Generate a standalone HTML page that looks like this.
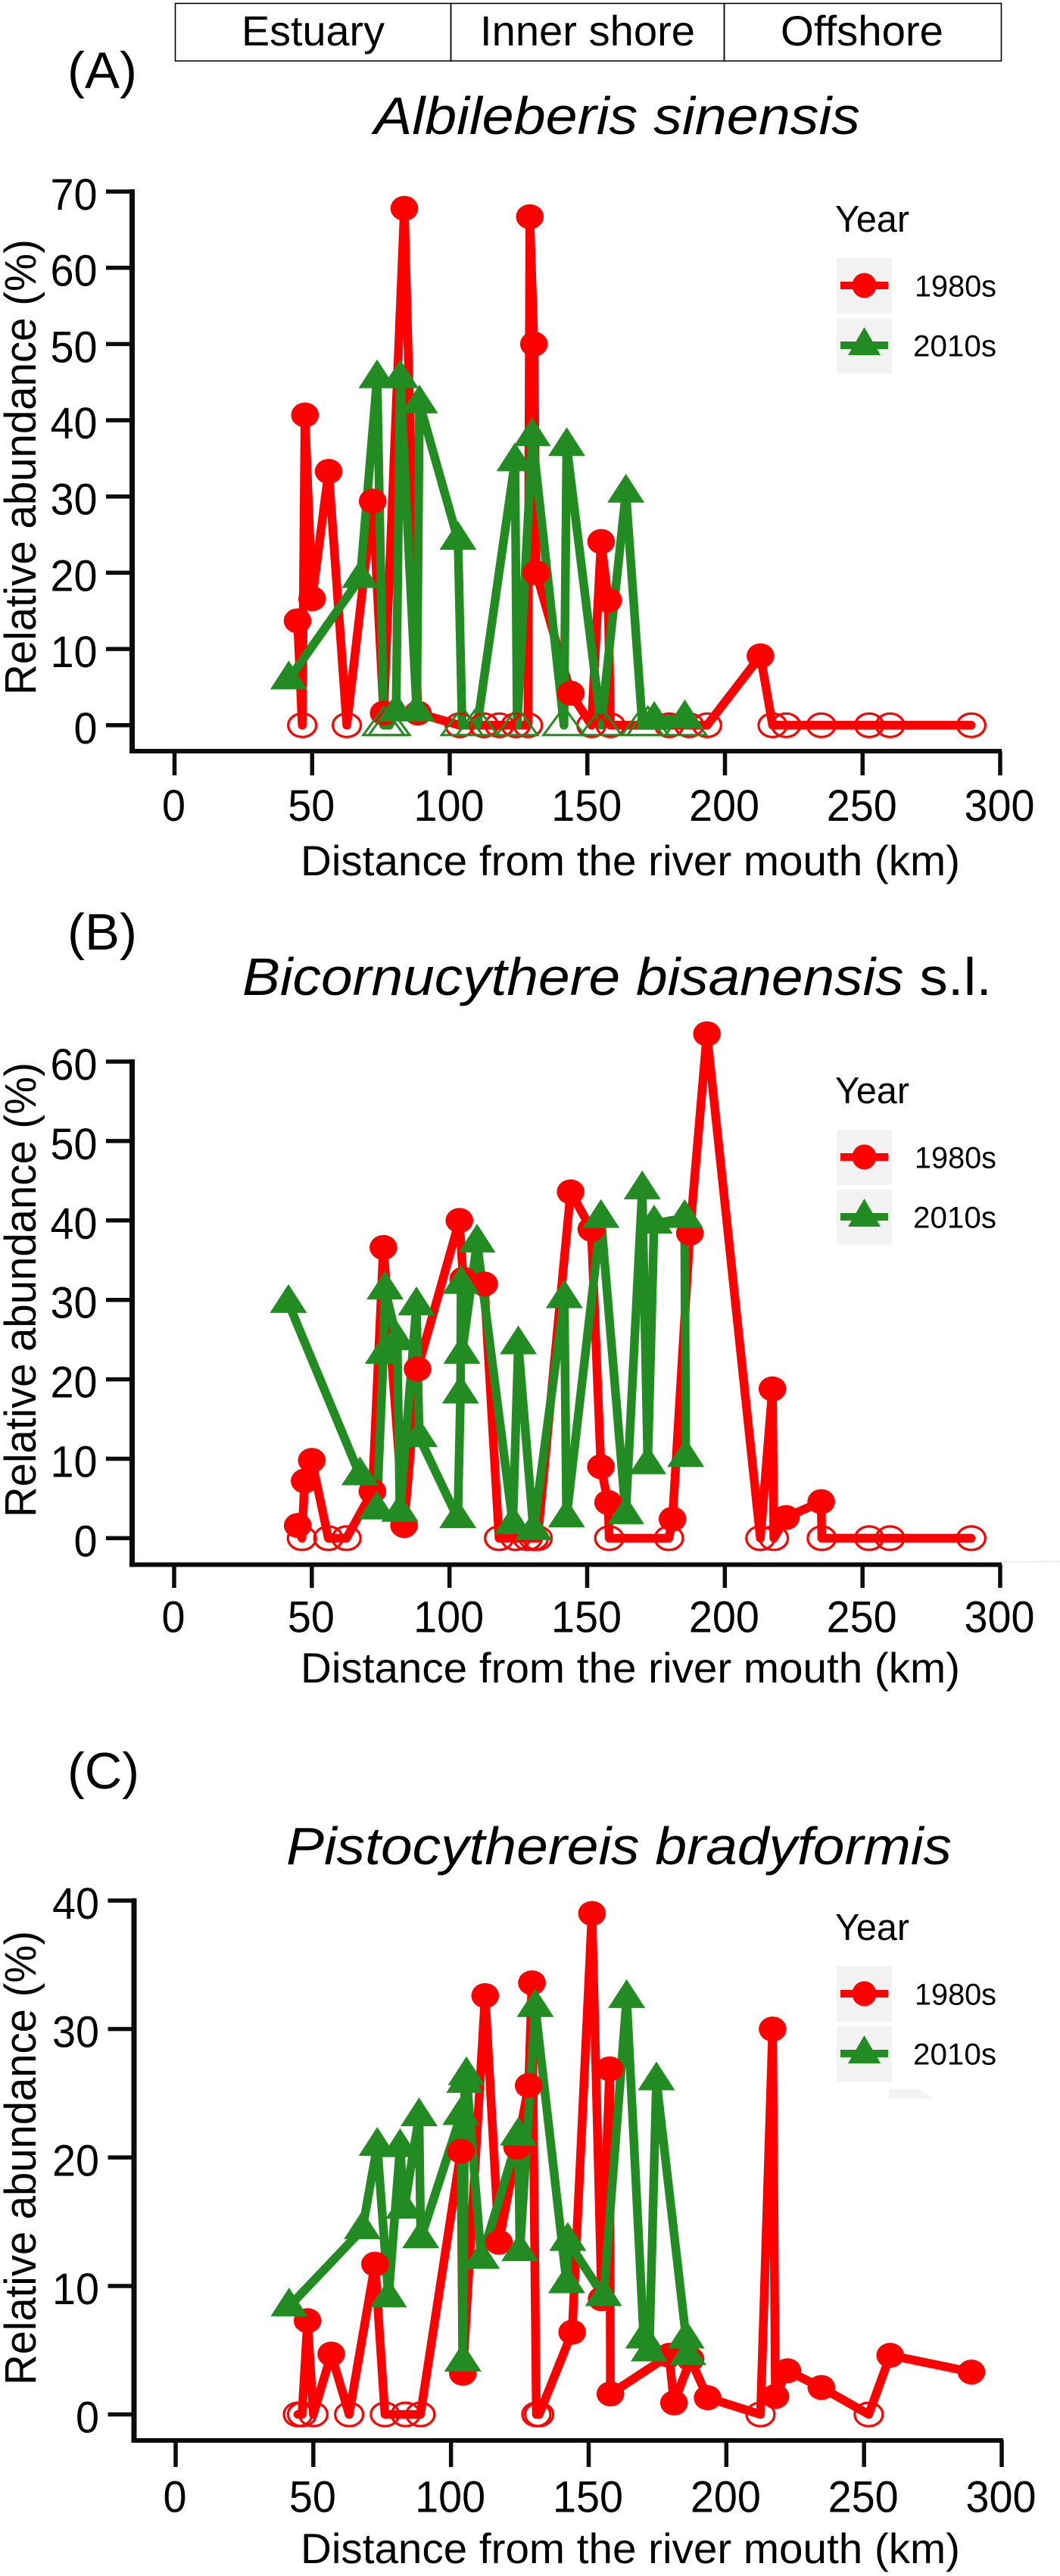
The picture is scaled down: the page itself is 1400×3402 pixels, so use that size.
<!DOCTYPE html>
<html lang="en">
<head>
<meta charset="utf-8">
<title>Relative abundance of ostracod species by distance from the river mouth</title>
<style>
html,body{margin:0;padding:0;background:#fff;}
svg{display:block;font-family:"Liberation Sans",Arial,sans-serif;}
text{fill:#000;}
</style>
</head>
<body>
<svg id="figure" xmlns="http://www.w3.org/2000/svg" width="1400" height="3402" viewBox="0 0 1400 3402">
  <rect x="0" y="0" width="1400" height="3402" fill="#fff"/>

  <g>
    <rect x="231.5" y="4.5" width="364" height="76" fill="none" stroke="#000" stroke-width="1.6"/>
    <rect x="595.5" y="4.5" width="361" height="76" fill="none" stroke="#000" stroke-width="1.6"/>
    <rect x="956.5" y="4.5" width="366" height="76" fill="none" stroke="#000" stroke-width="1.6"/>
    <text x="319" y="60" font-size="56" textLength="189" lengthAdjust="spacingAndGlyphs">Estuary</text>
    <text x="634" y="60" font-size="56" textLength="284" lengthAdjust="spacingAndGlyphs">Inner shore</text>
    <text x="1031" y="60" font-size="56" textLength="215" lengthAdjust="spacingAndGlyphs">Offshore</text>
  </g>

  <text x="89" y="116" font-size="68" textLength="92" lengthAdjust="spacingAndGlyphs">(A)</text>
  <text x="494" y="177" font-size="70" font-style="italic" textLength="642" lengthAdjust="spacingAndGlyphs">Albileberis sinensis</text>
  <text x="397" y="1156" font-size="56" textLength="871" lengthAdjust="spacingAndGlyphs">Distance from the river mouth (km)</text>
  <text transform="translate(47,918) rotate(-90)" font-size="58" textLength="602" lengthAdjust="spacingAndGlyphs">Relative abundance (%)</text>

  <text x="89" y="1254" font-size="68" textLength="92" lengthAdjust="spacingAndGlyphs">(B)</text>
  <text x="320" y="1314" font-size="70" textLength="990" lengthAdjust="spacingAndGlyphs"><tspan font-style="italic">Bicornucythere bisanensis</tspan> s.l.</text>
  <text x="397" y="2222" font-size="56" textLength="871" lengthAdjust="spacingAndGlyphs">Distance from the river mouth (km)</text>
  <text transform="translate(47,2004) rotate(-90)" font-size="58" textLength="601" lengthAdjust="spacingAndGlyphs">Relative abundance (%)</text>
  <line x1="1323" y1="2063" x2="1400" y2="2062" stroke="#eeeeee" stroke-width="2"/>

  <text x="89" y="2362" font-size="68" textLength="95" lengthAdjust="spacingAndGlyphs">(C)</text>
  <text x="378" y="2462" font-size="70" font-style="italic" textLength="879" lengthAdjust="spacingAndGlyphs">Pistocythereis bradyformis</text>
  <text x="397" y="3385" font-size="56" textLength="871" lengthAdjust="spacingAndGlyphs">Distance from the river mouth (km)</text>
  <text transform="translate(47,3150) rotate(-90)" font-size="58" textLength="600" lengthAdjust="spacingAndGlyphs">Relative abundance (%)</text>
  <polygon points="1174,2759 1213,2759 1232,2771 1174,2771" fill="#f2f2f2"/>

  <g id="plot-a"></g>
  <g id="plot-b"></g>
  <g id="plot-c"></g>
</svg>

<script>
// Shared tick labels
const xTicks = [0, 50, 100, 150, 200, 250, 300];
const legendYears = ["1980s", "2010s"];

// Panel A: Albileberis sinensis
const aTicksY = [0, 10, 20, 30, 40, 50, 60, 70];
const aDist1980 = [44.7,46.4,47.4,50,56,62.6,72,76,83.5,88.4,103.6,112.4,118,124,128.4,129.1,130.6,131.4,144,151.5,155,157.6,158.4,179.7,187,193.5,212.9,217.3,222.2,235,252.4,260,289.5];
const aVal1980 = [13.7,0,40.7,16.6,33.3,0,29.4,1.6,67.8,1.6,0,0,0,0,0,66.7,50,20,4.2,0,24.1,16.4,0,0,0,0,9.1,0,0,0,0,0,0];
const aDist2010 = [41.5,67.5,73.6,76,78,80.5,82,88,89,103,104.5,110,123.7,124.5,130,141.5,142.5,155,164,170,172,174.3,185.4,185.8];
const aVal2010 = [6,19.3,45.5,0,0,1.8,45.5,1.8,42.2,24.3,0,0,34.6,0,37.9,0,36.6,0,30.5,0,0,0.7,0.9,0];

// Panel B: Bicornucythere bisanensis s.l.
const bTicksY = [0, 10, 20, 30, 40, 50, 60];
const bDist1980 = [44.9,46.4,47.4,50,56,62.6,72,76,83.5,88.4,103.6,105,112.6,118,124,128.4,130.6,132,144,151.5,155,157.6,158,179.7,181,187.3,193.5,212.9,217.3,217.8,222.2,235,235.2,252.4,260,289.5];
const bVal1980 = [1.6,0,7.2,9.8,0,0,5.9,36.6,1.6,21.3,40,32.6,32,0,0,0,0,0,43.6,38.9,9,4.5,0,0,2.4,38.4,63.5,0,18.8,0,2.6,4.6,0,0,0,0];
const bDist2010 = [41.5,67.5,73.6,76,76.6,81,82,88,89,103,104,104.2,104.5,110,123,125,130.5,141.7,142.5,155,164,170,172,174.3,185.4,185.8];
const bVal2010 = [29.6,7.9,3.6,23.2,31.3,24.9,3.3,29.3,12.7,2.5,18.2,32,23.2,37.2,1.8,24.4,1,30.2,2.6,40.3,3,43.9,9.3,39.6,40.3,10.2];

// Panel C: Pistocythereis bradyformis
const cTicksY = [0, 10, 20, 30, 40];
const cDist1980 = [44.4,45.9,47.9,50,56.5,63,72.4,76,83.5,88.9,103.6,104.3,112.4,117.4,124,128.2,129.4,131,132,144,151.2,154.7,157.6,157.9,179.2,181,187,193.2,212.4,216.8,217.8,222.2,234.5,251.7,259.5,289];
const cVal1980 = [0,0,7.3,0,4.7,0,11.7,0,0,0,20.5,3.2,32.6,13.4,20.8,25.6,33.6,0,0,6.4,39,9,26.9,1.6,4.6,0.9,4.3,1.3,0,30,1.4,3.4,2.1,0,4.6,3.3];
const cDist2010 = [41.2,67.8,73.2,77.3,81.5,83,88.4,89,103.6,104.3,105,105.6,111,124.5,125,130.6,142,142.4,155.4,163.8,170,172,174.6,185.4,186];
const cVal2010 = [8.4,14.4,20.9,9.1,20.8,16,23.2,13.7,23.3,4.1,25.8,26.4,12.1,21.7,12.7,31.7,10.2,13.5,9.2,32.4,5.9,4.9,26,5.9,4.6];

const SVG_NS = "http://www.w3.org/2000/svg";
const RED = "#ff0000";
const GREEN = "#228b22";
const AXIS = "#0c0c0c";

function mk(parent, tag, attrs) {
  const el = document.createElementNS(SVG_NS, tag);
  for (const k in attrs) el.setAttribute(k, attrs[k]);
  parent.appendChild(el);
  return el;
}

function makeScales(g) {
  return {
    x: function (d) { return g.x0 + (d / 300) * (g.x300 - g.x0); },
    y: function (v) { return g.y0 - (v / g.yMax) * (g.y0 - g.yTop); }
  };
}

function drawAxes(root, g, s, yTicks, prefix) {
  const yAxis = mk(root, "line", {x1: g.axisX, y1: g.yTop - 3, x2: g.axisX, y2: g.axisY + 3, stroke: AXIS, "stroke-width": 7});
  
  
  const xAxis = mk(root, "line", {x1: g.axisX - 3, y1: g.axisY, x2: g.x300 + 2, y2: g.axisY, stroke: AXIS, "stroke-width": 6});
  
  

  yTicks.forEach(function (t) {
    const py = s.y(t);
    const tick = mk(root, "line", {x1: g.axisX - 34.5, y1: py, x2: g.axisX, y2: py, stroke: AXIS, "stroke-width": 5.5});
    
    
    const lab = mk(root, "text", {x: g.axisX - 46, y: py + 24, "font-size": 58, "text-anchor": "end", textLength: String(t).length * 31, lengthAdjust: "spacingAndGlyphs"});
    
    
    lab.textContent = t;
  });

  xTicks.forEach(function (t) {
    const px = s.x(t);
    const tick = mk(root, "line", {x1: px, y1: g.axisY, x2: px, y2: g.tickEnd, stroke: AXIS, "stroke-width": 5.5});
    
    
    const lab = mk(root, "text", {x: px - 1, y: g.labelBase, "font-size": 58, "text-anchor": "middle", textLength: String(t).length * 31, lengthAdjust: "spacingAndGlyphs"});
    
    
    lab.textContent = t;
  });
}

function circleMark(root, cx, cy, hollow) {
  if (hollow) {
    return mk(root, "ellipse", {cx: cx, cy: cy, rx: 18.5, ry: 15.5, fill: "none", stroke: RED, "stroke-width": 3.2});
  }
  return mk(root, "ellipse", {cx: cx, cy: cy, rx: 18.3, ry: 16.5, fill: RED});
}

function triangleMark(root, cx, cy, hollow) {
  const pts = (cx - 24.5) + "," + (cy + 13) + " " + cx + "," + (cy - 25) + " " + (cx + 24.5) + "," + (cy + 13);
  if (hollow) {
    return mk(root, "polygon", {points: (cx - 27) + "," + (cy + 13) + " " + cx + "," + (cy - 24) + " " + (cx + 27) + "," + (cy + 13), fill: "none", stroke: GREEN, "stroke-width": 3});
  }
  return mk(root, "polygon", {points: pts, fill: GREEN});
}

function seriesPath(s, dist, vals) {
  return dist.map(function (d, i) { return s.x(d) + "," + s.y(vals[i]); }).join(" ");
}

function drawSeries(root, s, d80, v80, d10, v10, prefix) {
  const redLine = mk(root, "polyline", {points: seriesPath(s, d80, v80), fill: "none", stroke: RED, "stroke-width": 11.5, "stroke-linejoin": "round", "stroke-linecap": "round"});
  
  

  const greenLine = mk(root, "polyline", {points: seriesPath(s, d10, v10), fill: "none", stroke: GREEN, "stroke-width": 11.5, "stroke-linejoin": "round", "stroke-linecap": "round"});
  
  

  d80.forEach(function (d, i) {
    const m = circleMark(root, s.x(d), s.y(v80[i]), v80[i] === 0);
    
    
  });
  d10.forEach(function (d, i) {
    const m = triangleMark(root, s.x(d), s.y(v10[i]), v10[i] === 0);
    
    
  });
}

function drawLegend(root, top, prefix) {
  const title = mk(root, "text", {x: 1103, y: top + 1, "font-size": 49, textLength: 98, lengthAdjust: "spacingAndGlyphs"});
  
  
  title.textContent = "Year";

  legendYears.forEach(function (yr, i) {
    const boxTop = top + 36 + i * 79;
    const mid = boxTop + 36;
    const key = mk(root, "rect", {x: 1105, y: boxTop, width: 73, height: 73, fill: "#f2f2f2"});
    
    
    const line = mk(root, "line", {x1: 1110, y1: mid, x2: 1173, y2: mid, stroke: i === 0 ? RED : GREEN, "stroke-width": 10});
    
    
    const mark = i === 0
      ? mk(root, "ellipse", {cx: 1141.5, cy: mid, rx: 16, ry: 16.5, fill: RED})
      : mk(root, "polygon", {points: "1120," + (mid + 13) + " 1141.5," + (mid - 24) + " 1163," + (mid + 13), fill: GREEN});
    
    
    const lab = mk(root, "text", {x: i === 0 ? 1208 : 1206, y: mid + 14.5, "font-size": 40, textLength: i === 0 ? 108 : 110, lengthAdjust: "spacingAndGlyphs"});
    
    
    lab.textContent = yr;
  });
}

function drawPanel(id, prefix, g, yTicks, d80, v80, d10, v10, legendTop) {
  const root = document.getElementById(id);
  const s = makeScales(g);
  drawAxes(root, g, s, yTicks, prefix);
  drawSeries(root, s, d80, v80, d10, v10, prefix);
  drawLegend(root, legendTop, prefix);
}

drawPanel("plot-a", "panel-a",
  {x0: 230.5, x300: 1321, y0: 957.8, yTop: 253, yMax: 70, axisX: 174.5, axisY: 992, tickEnd: 1024, labelBase: 1084},
  aTicksY, aDist1980, aVal1980, aDist2010, aVal2010, 305);

drawPanel("plot-b", "panel-b",
  {x0: 230, x300: 1321, y0: 2031.4, yTop: 1402, yMax: 60, axisX: 174.5, axisY: 2066.4, tickEnd: 2097, labelBase: 2155.7},
  bTicksY, bDist1980, bVal1980, bDist2010, bVal2010, 1456);

drawPanel("plot-c", "panel-c",
  {x0: 232, x300: 1323, y0: 3188.6, yTop: 2510, yMax: 40, axisX: 177, axisY: 3223, tickEnd: 3258, labelBase: 3317.5},
  cTicksY, cDist1980, cVal1980, cDist2010, cVal2010, 2561);
</script>
</body>
</html>
